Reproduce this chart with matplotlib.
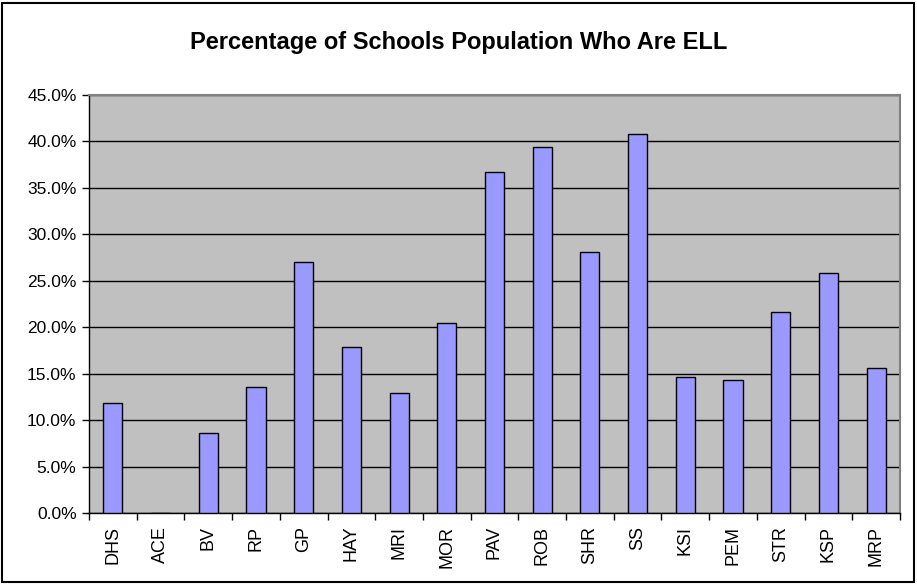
import numpy as np
import matplotlib.pyplot as plt
from matplotlib.patches import Rectangle
from matplotlib.ticker import FuncFormatter, MultipleLocator

plt.rcParams['font.family'] = ['Liberation Sans', 'DejaVu Sans']

# data
schools = ["DHS", "ACE", "BV", "RP", "GP", "HAY", "MRI", "MOR", "PAV",
           "ROB", "SHR", "SS", "KSI", "PEM", "STR", "KSP", "MRP"]
pct_ell = [11.9, 0.0, 8.6, 13.6, 27.0, 17.9, 12.9, 20.5, 36.7,
           39.4, 28.1, 40.75, 14.7, 14.3, 21.6, 25.8, 15.6]

W, H = 917, 584
fig = plt.figure(figsize=(W / 100, H / 100), dpi=100)
ax = fig.add_axes([89 / W, (H - 513.3) / H, 811 / W, 418.6 / H])

x = np.arange(len(schools))
ax.set_facecolor("#C0C0C0")
ax.bar(x, pct_ell, width=0.4, color="#9999FF", edgecolor="black", linewidth=1, zorder=3)

ax.set_xlim(-0.5, len(schools) - 0.5)
ax.set_ylim(0, 45)
ax.yaxis.set_major_locator(MultipleLocator(5))
ax.yaxis.set_major_formatter(FuncFormatter(lambda v, p: f"{v:.1f}%"))
ax.grid(axis="y", color="black", linewidth=1, zorder=1)
ax.set_axisbelow(True)

ax.set_xticks(x)
ax.set_xticklabels(schools, rotation=90, fontsize=13)
ax.tick_params(axis="x", which="major", length=0, pad=9)
ax.set_xticks(np.arange(-0.5, len(schools), 1), minor=True)
ax.tick_params(axis="x", which="minor", length=5, width=1, direction="out")
ax.tick_params(axis="y", length=5, width=1, labelsize=12.5, pad=4)

for side in ["top", "right"]:
    ax.spines[side].set_color("#808080")
    ax.spines[side].set_linewidth(1.5)
for side in ["left", "bottom"]:
    ax.spines[side].set_color("black")
    ax.spines[side].set_linewidth(1)

fig.text(0.5, 1 - 42 / H, "Percentage of Schools Population Who Are ELL",
         ha="center", va="center", fontsize=17, fontweight="bold")

# outer chart border
fig.patches.append(Rectangle((2 / W, 2 / H), 1 - 5 / W, 1 - 5 / H, transform=fig.transFigure,
                             fill=False, edgecolor="black", linewidth=1.5))

fig.savefig("out.png", dpi=100)
